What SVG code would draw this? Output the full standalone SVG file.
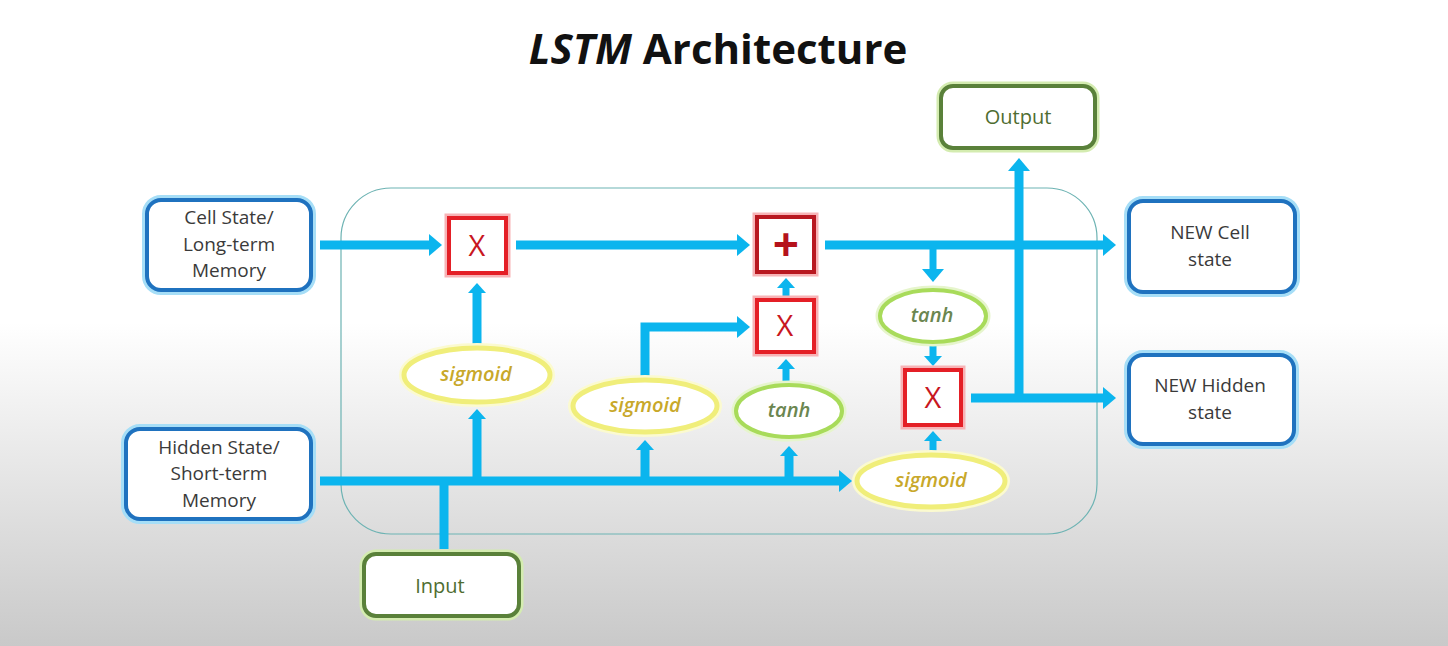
<svg xmlns="http://www.w3.org/2000/svg" width="1448" height="646" viewBox="0 0 1448 646">
<defs>
<linearGradient id="bg" x1="0" y1="0" x2="0" y2="1">
<stop offset="0" stop-color="#ffffff"/>
<stop offset="0.5" stop-color="#ffffff"/>
<stop offset="1" stop-color="#c9c9c9"/>
</linearGradient>
<marker id="ah" markerUnits="userSpaceOnUse" viewBox="0 0 13 22" markerWidth="13" markerHeight="22" refX="1" refY="11" orient="auto">
<path d="M0,0 L13,11 L0,22 z" fill="#0bb5ee"/>
</marker>
<marker id="ahs" markerUnits="userSpaceOnUse" viewBox="0 0 10 18" markerWidth="10" markerHeight="18" refX="1" refY="9" orient="auto">
<path d="M0,0 L10,9 L0,18 z" fill="#0bb5ee"/>
</marker>
</defs>
<style>
.title{font-family:"Open Sans","Liberation Sans",sans-serif;font-weight:bold;font-size:42px;fill:#111}
.lbl{font-family:"Open Sans","Liberation Sans",sans-serif;font-size:19px;fill:#3a3a3a;text-anchor:middle}
.glbl{font-family:"Open Sans","Liberation Sans",sans-serif;font-size:20px;fill:#4f6d31;text-anchor:middle}
.bglow{fill:none;stroke:#a6def7;stroke-width:10}
.bbox{fill:#ffffff;stroke:#1f72bf;stroke-width:4}
.gglow{fill:none;stroke:#d4ecb0;stroke-width:9}
.gbox{fill:#ffffff;stroke:#5a813a;stroke-width:4}
.rglow{fill:none;stroke:#f7b3b6;stroke-width:9}
.rbox{fill:#ffffff;stroke:#e41f26;stroke-width:4}
.rbox2{fill:#ffffff;stroke:#b81820;stroke-width:4}
.op{font-family:"Open Sans","Liberation Sans",sans-serif;font-size:29px;fill:#c8171f;text-anchor:middle}
.plus{font-family:"Open Sans","Liberation Sans",sans-serif;font-size:46px;font-weight:bold;fill:#b5121b;text-anchor:middle}
.yel{fill:#ffffff;stroke:#f0ee7a;stroke-width:5}
.yglow{fill:none;stroke:#fbfad0;stroke-width:10}
.grn{fill:#ffffff;stroke:#a8db5a;stroke-width:4}
.grglow{fill:none;stroke:#e6f5cc;stroke-width:9}
.sig{font-family:"Open Sans","Liberation Sans",sans-serif;font-size:20px;font-style:italic;font-weight:600;fill:#c8a82a;text-anchor:middle}
.tanh{font-family:"Open Sans","Liberation Sans",sans-serif;font-size:20px;font-style:italic;font-weight:600;fill:#6b8650;text-anchor:middle}
.c{fill:none;stroke:#0bb5ee;stroke-width:9}
.cs{fill:none;stroke:#0bb5ee;stroke-width:7}
</style>
<rect x="0" y="0" width="1448" height="646" fill="url(#bg)"/>
<text class="title" x="718" y="64" text-anchor="middle"><tspan font-style="italic">LSTM</tspan> Architecture</text>
<g id="container">
<rect x="341" y="188" width="756" height="346" rx="50" fill="none" stroke="#6db3b3" stroke-width="1.2"/>
</g>
<g id="connectors">
<path class="c" d="M320,245 H430" marker-end="url(#ah)"/>
<path class="c" d="M516,245 H738" marker-end="url(#ah)"/>
<path class="c" d="M825,245 H1104" marker-end="url(#ah)"/>
<path class="cs" d="M933,245 V270" marker-end="url(#ah)"/>
<path class="cs" d="M933,345 V357" marker-end="url(#ahs)"/>
<path class="c" d="M971,398 H1104" marker-end="url(#ah)"/>
<path class="c" d="M1019,398 V170" marker-end="url(#ah)"/>
<path class="c" d="M320,481 H840" marker-end="url(#ah)"/>
<path class="c" d="M444,549 V481"/>
<path class="c" d="M477,481 V418" marker-end="url(#ahs)"/>
<path class="c" d="M477,346 V292" marker-end="url(#ahs)"/>
<path class="c" d="M645,481 V449" marker-end="url(#ahs)"/>
<path class="c" d="M645,376 V327 H738" marker-end="url(#ah)"/>
<path class="c" d="M789,481 V455" marker-end="url(#ahs)"/>
<path class="cs" d="M786,383 V368" marker-end="url(#ahs)"/>
<path class="cs" d="M786,298 V287" marker-end="url(#ahs)"/>
<path class="cs" d="M933,453 V440" marker-end="url(#ahs)"/>
</g>
<g id="cell-state">
<rect class="bglow" x="147" y="200" width="164" height="90" rx="14"/>
<rect class="bbox" x="147" y="200" width="164" height="90" rx="14"/>
<text class="lbl" x="229" y="224">Cell State/</text>
<text class="lbl" x="229" y="251">Long-term</text>
<text class="lbl" x="229" y="277">Memory</text>
</g>
<g id="hidden-state">
<rect class="bglow" x="126" y="429" width="185" height="90" rx="14"/>
<rect class="bbox" x="126" y="429" width="185" height="90" rx="14"/>
<text class="lbl" x="219" y="454">Hidden State/</text>
<text class="lbl" x="219" y="480">Short-term</text>
<text class="lbl" x="219" y="507">Memory</text>
</g>
<g id="input">
<rect class="gglow" x="364" y="554" width="155" height="62" rx="12"/>
<rect class="gbox" x="364" y="554" width="155" height="62" rx="12"/>
<text class="glbl" x="440" y="593">Input</text>
</g>
<g id="output">
<rect class="gglow" x="941" y="86" width="154" height="62" rx="12"/>
<rect class="gbox" x="941" y="86" width="154" height="62" rx="12"/>
<text class="glbl" x="1018" y="124">Output</text>
</g>
<g id="new-cell-state">
<rect class="bglow" x="1129" y="201" width="166" height="91" rx="14"/>
<rect class="bbox" x="1129" y="201" width="166" height="91" rx="14"/>
<text class="lbl" x="1210" y="239">NEW Cell</text>
<text class="lbl" x="1210" y="266">state</text>
</g>
<g id="new-hidden-state">
<rect class="bglow" x="1129" y="355" width="165" height="89" rx="14"/>
<rect class="bbox" x="1129" y="355" width="165" height="89" rx="14"/>
<text class="lbl" x="1210" y="392">NEW Hidden</text>
<text class="lbl" x="1210" y="419">state</text>
</g>
<g id="mult-forget">
<rect class="rglow" x="449" y="218" width="57" height="55"/>
<rect class="rbox" x="449" y="218" width="57" height="55"/>
<text class="op" x="477" y="256">X</text>
</g>
<g id="add">
<rect class="rglow" x="757" y="217" width="57" height="55"/>
<rect class="rbox2" x="757" y="217" width="57" height="55"/>
<text class="plus" x="786" y="261">+</text>
</g>
<g id="mult-input">
<rect class="rglow" x="757" y="300" width="57" height="52"/>
<rect class="rbox" x="757" y="300" width="57" height="52"/>
<text class="op" x="785" y="336">X</text>
</g>
<g id="mult-output">
<rect class="rglow" x="905" y="370" width="56" height="55"/>
<rect class="rbox" x="905" y="370" width="56" height="55"/>
<text class="op" x="933" y="408">X</text>
</g>
<g id="sigmoid-forget">
<ellipse class="yglow" cx="477" cy="375" rx="73" ry="27"/>
<ellipse class="yel" cx="477" cy="375" rx="73" ry="27"/>
<text class="sig" x="476" y="381">sigmoid</text>
</g>
<g id="sigmoid-input">
<ellipse class="yglow" cx="645" cy="406" rx="72" ry="26"/>
<ellipse class="yel" cx="645" cy="406" rx="72" ry="26"/>
<text class="sig" x="645" y="412">sigmoid</text>
</g>
<g id="tanh-input">
<ellipse class="grglow" cx="789" cy="411" rx="53" ry="26"/>
<ellipse class="grn" cx="789" cy="411" rx="53" ry="26"/>
<text class="tanh" x="789" y="417">tanh</text>
</g>
<g id="tanh-output">
<ellipse class="grglow" cx="933" cy="316" rx="53" ry="26"/>
<ellipse class="grn" cx="933" cy="316" rx="53" ry="26"/>
<text class="tanh" x="932" y="322">tanh</text>
</g>
<g id="sigmoid-output">
<ellipse class="yglow" cx="931" cy="481" rx="74" ry="26"/>
<ellipse class="yel" cx="931" cy="481" rx="74" ry="26"/>
<text class="sig" x="931" y="487">sigmoid</text>
</g>
</svg>
